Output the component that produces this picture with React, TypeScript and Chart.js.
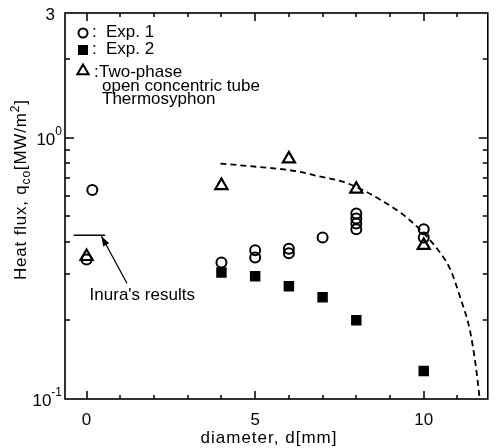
import React, { useEffect, useRef } from 'react';
import { Chart, registerables } from 'chart.js';

Chart.register(...registerables);

// ---- data ----
const exp1X = [0.17, 0, 4, 5, 5, 6, 6, 7, 8, 8, 8, 8, 10, 10];
const exp1Y = [0.63, 0.342, 0.333, 0.371, 0.348, 0.376, 0.361, 0.415, 0.513, 0.491, 0.469, 0.446, 0.446, 0.415];

const exp2X = [4, 5, 6, 7, 8, 10];
const exp2Y = [0.305, 0.295, 0.27, 0.245, 0.2, 0.128];

const twoPhaseX = [0, 4, 6, 8, 10];
const twoPhaseY = [0.351, 0.656, 0.83, 0.635, 0.387];

const curveX = [3.97, 4.75, 6.2, 6.8, 7.76, 8.75, 9.6, 10.5, 10.8, 11.08, 11.37, 11.55, 11.66];
const curveY = [0.796, 0.78, 0.745, 0.716, 0.667, 0.575, 0.482, 0.361, 0.311, 0.245, 0.183, 0.132, 0.1];

const inuraX = [-0.38, 0.55];
const inuraY = [0.423, 0.423];

const xMin = -0.64;
const xMax = 11.9;
const yMin = 0.1;
const yMax = 3;

const xTickValues = [0, 1, 2, 3, 4, 5, 6, 7, 8, 9, 10, 11];
const xMajorTicks = [0, 5, 10];
const xTickLabels = ['0', '5', '10'];

const yTickValues = [0.2, 0.3, 0.4, 0.5, 0.6, 0.7, 0.8, 0.9, 1, 2];
const yMajorTicks = [1];
const yLabelValues = [0.1, 1, 3];
const yLabelBase = ['10', '10', '3'];
const yLabelExp = ['-1', '0', ''];

const legendLabels = ['Exp. 1', 'Exp. 2', 'Two-phase'];
const legendExtra = ['open concentric tube', 'Thermosyphon'];
const xTitle = 'diameter, d[mm]';
const inuraLabel = "Inura's results";
const inuraTextPos = { x: 0.09, y: 0.24 };
const inuraArrowTail = { x: 1.2, y: 0.277 };
const inuraArrowTip = { x: 0.44, y: 0.42 };

const FONT = '"Liberation Sans", Arial, sans-serif';

function pts(xs: number[], ys: number[]) {
  return xs.map((x, i) => ({ x, y: ys[i] }));
}

export default function App() {
  const ref = useRef<HTMLCanvasElement>(null);

  useEffect(() => {
    if (!ref.current) return;

    const overlay = {
      id: 'overlay',
      afterDatasetsDraw(chart: any) {
        const ctx: CanvasRenderingContext2D = chart.ctx;
        const xs = chart.scales.x;
        const ys = chart.scales.y;
        const a = chart.chartArea;
        const line = (x1: number, y1: number, x2: number, y2: number) => {
          ctx.beginPath();
          ctx.moveTo(x1, y1);
          ctx.lineTo(x2, y2);
          ctx.stroke();
        };
        ctx.save();
        ctx.strokeStyle = '#000';
        ctx.fillStyle = '#000';

        // frame
        ctx.lineWidth = 1.6;
        ctx.strokeRect(a.left, a.top, a.right - a.left, a.bottom - a.top);

        // ticks
        ctx.lineWidth = 1.5;
        for (const t of xTickValues) {
          const px = Math.round(xs.getPixelForValue(t));
          const len = xMajorTicks.includes(t) ? 8 : 4;
          line(px, a.bottom, px, a.bottom - len);
          line(px, a.top, px, a.top + len);
        }
        for (const v of yTickValues) {
          const py = Math.round(ys.getPixelForValue(v));
          const len = yMajorTicks.includes(v) ? 9 : 5;
          line(a.left, py, a.left + len, py);
          line(a.right, py, a.right - len, py);
        }

        // x tick labels
        ctx.font = `17px ${FONT}`;
        ctx.textAlign = 'center';
        ctx.textBaseline = 'alphabetic';
        xMajorTicks.forEach((t, i) => {
          ctx.fillText(xTickLabels[i], xs.getPixelForValue(t), a.bottom + 26);
        });

        // x title
        (ctx as any).letterSpacing = '1px';
        ctx.fillText(xTitle, a.left + 204, a.bottom + 44);
        (ctx as any).letterSpacing = '0px';

        // y tick labels
        yLabelValues.forEach((v, i) => {
          const py = ys.getPixelForValue(v);
          const exp = yLabelExp[i];
          ctx.textAlign = 'left';
          if (exp) {
            ctx.font = `12px ${FONT}`;
            const ew = ctx.measureText(exp).width;
            const right = a.left - 3;
            ctx.fillText(exp, right - ew, py - 3);
            ctx.font = `17px ${FONT}`;
            ctx.textAlign = 'right';
            ctx.fillText(yLabelBase[i], right - ew, py + 7);
          } else {
            ctx.font = `17px ${FONT}`;
            ctx.textAlign = 'right';
            ctx.fillText(yLabelBase[i], a.left - 10, py + 7);
          }
        });

        // y title (rotated, with sub- and superscript)
        ctx.save();
        ctx.translate(26, 280);
        ctx.rotate(-Math.PI / 2);
        ctx.textAlign = 'left';
        (ctx as any).letterSpacing = '0.8px';
        let cx = 0;
        const part = (s: string, size: number, dy: number) => {
          ctx.font = `${size}px ${FONT}`;
          ctx.fillText(s, cx, dy);
          cx += ctx.measureText(s).width;
        };
        part('Heat flux, q', 17, 0);
        part('co', 12, 4);
        part('[MW/m', 17, 0);
        part('2', 12, -7);
        part(']', 17, 0);
        (ctx as any).letterSpacing = '0px';
        ctx.restore();

        // legend
        const lx = a.left + 18;
        ctx.lineWidth = 2;
        ctx.beginPath();
        ctx.arc(lx, 33, 4.5, 0, Math.PI * 2);
        ctx.stroke();
        ctx.fillRect(lx - 5, 45, 10, 10);
        const tr = 6.5;
        const ty = 71;
        ctx.beginPath();
        ctx.moveTo(lx, ty - tr);
        ctx.lineTo(lx + tr * 0.866, ty + tr * 0.5);
        ctx.lineTo(lx - tr * 0.866, ty + tr * 0.5);
        ctx.closePath();
        ctx.stroke();

        ctx.font = `17px ${FONT}`;
        ctx.textAlign = 'left';
        ctx.fillText(':', lx + 9, 37);
        ctx.fillText(legendLabels[0], lx + 23, 37);
        ctx.fillText(':', lx + 9, 54);
        ctx.fillText(legendLabels[1], lx + 23, 54);
        ctx.fillText(':', lx + 11, 77);
        ctx.fillText(legendLabels[2], lx + 16, 77);
        ctx.fillText(legendExtra[0], lx + 19, 91);
        ctx.fillText(legendExtra[1], lx + 19, 104);

        // Inura annotation
        ctx.fillText(inuraLabel, xs.getPixelForValue(inuraTextPos.x), ys.getPixelForValue(inuraTextPos.y));
        const x1 = xs.getPixelForValue(inuraArrowTail.x);
        const y1 = ys.getPixelForValue(inuraArrowTail.y);
        const x2 = xs.getPixelForValue(inuraArrowTip.x);
        const y2 = ys.getPixelForValue(inuraArrowTip.y);
        ctx.lineWidth = 1.1;
        line(x1, y1, x2, y2);
        const ang = Math.atan2(y2 - y1, x2 - x1);
        const hl = 10;
        const hw = 3.5;
        ctx.beginPath();
        ctx.moveTo(x2, y2);
        ctx.lineTo(x2 - hl * Math.cos(ang) + hw * Math.sin(ang), y2 - hl * Math.sin(ang) - hw * Math.cos(ang));
        ctx.lineTo(x2 - hl * Math.cos(ang) - hw * Math.sin(ang), y2 - hl * Math.sin(ang) + hw * Math.cos(ang));
        ctx.closePath();
        ctx.fill();

        ctx.restore();
      },
    };

    const chart = new Chart(ref.current, {
      type: 'scatter',
      data: {
        datasets: [
          {
            label: 'Exp. 1',
            data: pts(exp1X, exp1Y),
            pointStyle: 'circle',
            pointRadius: 5,
            pointBorderWidth: 2,
            borderColor: '#000',
            backgroundColor: 'rgba(0,0,0,0)',
          },
          {
            label: 'Exp. 2',
            data: pts(exp2X, exp2Y),
            pointStyle: 'rect',
            pointRadius: 7.4,
            pointBorderWidth: 0,
            borderColor: '#000',
            backgroundColor: '#000',
          },
          {
            label: 'Two-phase open concentric tube Thermosyphon',
            data: pts(twoPhaseX, twoPhaseY),
            pointStyle: 'triangle',
            pointRadius: 7,
            pointBorderWidth: 2.2,
            borderColor: '#000',
            backgroundColor: 'rgba(0,0,0,0)',
          },
          {
            type: 'line',
            label: 'curve',
            data: pts(curveX, curveY),
            showLine: true,
            borderColor: '#000',
            borderWidth: 1.8,
            borderDash: [6, 4],
            pointRadius: 0,
            cubicInterpolationMode: 'monotone',
            fill: false,
          } as any,
          {
            type: 'line',
            label: "Inura's results",
            data: pts(inuraX, inuraY),
            showLine: true,
            borderColor: '#000',
            borderWidth: 1.5,
            pointRadius: 0,
            fill: false,
          } as any,
        ],
      },
      options: {
        responsive: false,
        animation: false,
        layout: { padding: { left: 65, top: 13, right: 2, bottom: 49 } },
        scales: {
          x: { type: 'linear', min: xMin, max: xMax, display: false },
          y: { type: 'logarithmic', min: yMin, max: yMax, display: false },
        },
        plugins: {
          legend: { display: false },
          tooltip: { enabled: false },
        },
      },
      plugins: [overlay],
    });

    return () => chart.destroy();
  }, []);

  return (
    <div style={{ position: 'fixed', left: 0, top: 0, width: 497, height: 448, background: '#fff' }}>
      <canvas ref={ref} width={497} height={448} style={{ display: 'block' }} />
    </div>
  );
}
